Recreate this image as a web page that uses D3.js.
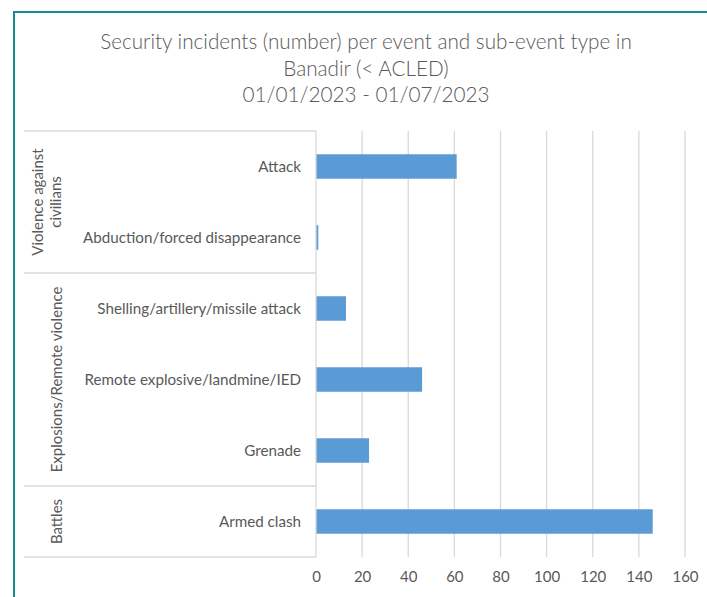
<!doctype html>
<meta charset="utf-8">
<style>
  body { margin: 0; background: #fff; }
  svg text { font-family: Lato, "Open Sans", sans-serif; fill: #595959; }
</style>
<body>
<script src="https://d3js.org/d3.v7.min.js"></script>
<script>

// sub-event types, top to bottom
const subEvents = ["Attack", "Abduction/forced disappearance",
  "Shelling/artillery/missile attack", "Remote explosive/landmine/IED",
  "Grenade", "Armed clash"];
const incidents = [61, 1, 13, 46, 23, 146];

// event type groups (first / last sub-event index, label lines)
const groups = ["Violence against civilians", "Explosions/Remote violence", "Battles"];
const groupStart = [0, 2, 5];
const groupEnd = [1, 4, 5];
const groupLines = [["Violence against", "civilians"], ["Explosions/Remote violence"], ["Battles"]];

const xTicks = [0, 20, 40, 60, 80, 100, 120, 140, 160];
const titleLines = ["Security incidents (number) per event and sub-event type in",
  "Banadir (< ACLED)", "01/01/2023 - 01/07/2023"];

let width = 707, height = 597;
let margin = {top: 131, right: 22, bottom: 40, left: 316};
let frameLeft = 24;

let svg = d3.select("body").append("svg")
    .attr("width", width)
    .attr("height", height);

// teal frame (open at right/bottom - cut off by the picture)
svg.append("rect")
    .attr("x", 14).attr("y", 12)
    .attr("width", 760).attr("height", 700)
    .attr("fill", "none")
    .attr("stroke", "#158b94")
    .attr("stroke-width", 2);

// title
svg.append("text")
    .attr("text-anchor", "middle")
    .style("font-size", "20.7px")
    .style("font-weight", 300)
  .selectAll("tspan")
  .data(titleLines)
  .enter().append("tspan")
    .attr("x", 366)
    .attr("y", (d, i) => 49 + i * 26.5)
    .text(d => d);

let x = d3.scaleLinear()
    .domain([0, 160])
    .range([margin.left, 685]);

let y = d3.scaleBand()
    .domain(subEvents)
    .range([margin.top, 557])
    .paddingInner(0.655)
    .paddingOuter(0.3275);

let band = (557 - margin.top) / subEvents.length;

// vertical gridlines
svg.append("g")
  .selectAll("line")
  .data(xTicks.slice(1))
  .enter().append("line")
    .attr("x1", d => x(d)).attr("x2", d => x(d))
    .attr("y1", margin.top).attr("y2", 557)
    .attr("stroke", "#d9d9d9")
    .attr("stroke-width", 1.3);

// x axis labels
let xAxis = svg.append("g")
    .attr("transform", "translate(0,557)")
    .call(d3.axisBottom(x).tickValues(xTicks).tickSize(0).tickPadding(14));
xAxis.select(".domain").remove();
xAxis.selectAll("text")
    .style("font-size", "15px")
    .attr("fill", "#595959")
    .style("font-family", "Lato, sans-serif");

// bars
svg.append("g")
  .selectAll("rect")
  .data(subEvents)
  .enter().append("rect")
    .attr("x", x(0))
    .attr("y", d => y(d))
    .attr("width", (d, i) => x(incidents[i]) - x(0))
    .attr("height", y.bandwidth())
    .attr("fill", "#5b9bd5");

// category axis frame
let axisG = svg.append("g").attr("stroke", "#d9d9d9").attr("stroke-width", 1.3);
axisG.append("line")
    .attr("x1", margin.left).attr("x2", margin.left)
    .attr("y1", margin.top).attr("y2", 557);
let bounds = [margin.top].concat(groupEnd.map(e => margin.top + (e + 1) * band));
axisG.selectAll(".sep")
  .data(bounds)
  .enter().append("line")
    .attr("x1", frameLeft).attr("x2", margin.left)
    .attr("y1", d => d).attr("y2", d => d);

// sub-event labels
svg.append("g")
  .selectAll("text")
  .data(subEvents)
  .enter().append("text")
    .attr("x", 301)
    .attr("y", d => y(d) + y.bandwidth() / 2)
    .attr("dy", "0.35em")
    .attr("text-anchor", "end")
    .style("font-size", "15.2px")
    .text(d => d);

// group labels (rotated)
groups.forEach((g, gi) => {
  let cy = margin.top + (groupStart[gi] + groupEnd[gi] + 1) / 2 * band;
  let lines = groupLines[gi];
  let t = svg.append("text")
      .attr("transform", "translate(" + 0 + "," + cy + ") rotate(-90)")
      .attr("text-anchor", "middle")
      .style("font-size", "15px");
  t.selectAll("tspan")
    .data(lines)
    .enter().append("tspan")
      .attr("x", 0)
      .attr("y", (d, i) => (lines.length === 1 ? 62 : 43) + i * 18)
      .text(d => d);
});

</script>
